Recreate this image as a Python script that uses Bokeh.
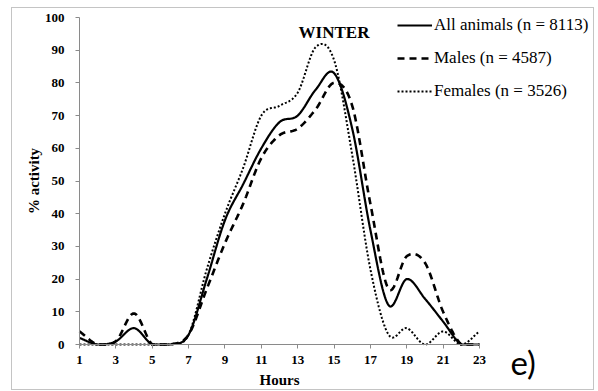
import numpy as np
from bokeh.plotting import figure
from bokeh.models import Legend, LegendItem, Label, FixedTicker, Range1d
from bokeh.embed import file_html
from bokeh.resources import INLINE

# ---- data ----
hours = list(range(1, 24))
all_animals = [2, 0, 1, 5, 0, 0, 3, 20, 38, 49, 60, 68, 70, 78, 83, 66, 35, 12, 20, 14, 7, 0, 0]
males = [4, 0, 1, 9.5, 0, 0, 3, 17, 31, 43, 57, 64, 66, 72, 80, 73, 43, 17, 27, 25, 10, 0, 0]
females = [0, 0, 0, 0, 0, 0, 3, 23, 40, 54, 70, 73, 77, 91, 87, 58, 23, 3, 5, 0, 4, 0, 4]
x_ticks = list(range(1, 24, 2))
y_ticks = list(range(0, 101, 10))
labels = ["All animals (n = 8113)", "Males (n = 4587)", "Females (n = 3526)"]


def smooth(xs, ys, n=24):
    """Catmull-Rom (Excel-like smoothed line) rendering of the series."""
    xs = np.asarray(xs, float)
    ys = np.asarray(ys, float)
    k = len(xs)
    mx = np.zeros(k)
    my = np.zeros(k)
    for i in range(k):
        a = max(i - 1, 0)
        b = min(i + 1, k - 1)
        mx[i] = (xs[b] - xs[a]) / (b - a)
        my[i] = (ys[b] - ys[a]) / (b - a)
    ox, oy = [], []
    t = np.linspace(0, 1, n, endpoint=False)
    h00 = 2 * t**3 - 3 * t**2 + 1
    h10 = t**3 - 2 * t**2 + t
    h01 = -2 * t**3 + 3 * t**2
    h11 = t**3 - t**2
    for i in range(k - 1):
        ox.extend(h00 * xs[i] + h10 * mx[i] + h01 * xs[i + 1] + h11 * mx[i + 1])
        oy.extend(h00 * ys[i] + h10 * my[i] + h01 * ys[i + 1] + h11 * my[i + 1])
    ox.append(xs[-1])
    oy.append(ys[-1])
    return ox, list(np.maximum(np.asarray(oy), 0.0))


# plot area: hour 1 -> px 79, hour 23 -> px 479 ; value 0 -> px 344, 100 -> px 17
# figure content spans px 12..594 horizontally and 8..390 vertically
PX_PER_H = 400 / 22
PX_PER_V = 327 / 100
x_start = 1 - (79 - 12) / PX_PER_H
x_end = 1 + (595 - 79) / PX_PER_H
y_end = (344 - 8) / PX_PER_V
y_start = -(391 - 344) / PX_PER_V

p = figure(
    width=583, height=383,
    x_range=Range1d(x_start, x_end), y_range=Range1d(y_start, y_end),
    output_backend="svg", toolbar_location=None,
    min_border_left=0, min_border_right=0, min_border_top=0, min_border_bottom=0,
)
p.styles = {"margin-left": "11px", "margin-top": "7px", "border": "1px solid #c4c4c4"}
p.outline_line_color = None
p.grid.visible = False
p.background_fill_color = "white"
p.border_fill_color = "white"

sx, sy = smooth(hours, all_animals)
r_all = p.line(sx, sy, line_color="black", line_width=2.2)
mx_, my_ = smooth(hours, males)
r_m = p.line(mx_, my_, line_color="black", line_width=2.6, line_dash="7 5")
fx, fy = smooth(hours, females)
r_f = p.line(fx, fy, line_color="black", line_width=2.0, line_dash="2 2")

serif = "Liberation Serif"
for ax in (p.xaxis[0], p.yaxis[0]):
    ax.axis_line_color = "#8a8a8a"
    ax.major_tick_line_color = "#8a8a8a"
    ax.major_tick_out = 4
    ax.major_tick_in = 0
    ax.minor_tick_out = 0
    ax.minor_tick_in = 0
    ax.major_label_text_font = serif
    ax.major_label_text_font_style = "bold"
    ax.major_label_text_font_size = "13px"
    ax.major_label_text_color = "black"
    ax.axis_label_text_font = serif
    ax.axis_label_text_font_style = "bold"
    ax.axis_label_text_font_size = "15px"
    ax.axis_label_text_color = "black"

p.xaxis.ticker = FixedTicker(ticks=x_ticks)
p.yaxis.ticker = FixedTicker(ticks=y_ticks)
p.xaxis.bounds = (1, 23)
p.yaxis.bounds = (0, 100)
p.xaxis.fixed_location = 0
p.yaxis.fixed_location = 1
p.xaxis.axis_label = "Hours"
p.yaxis.axis_label = "% activity"
p.xaxis.major_label_standoff = 7
p.yaxis.major_label_standoff = 11
p.xaxis.axis_label_standoff = 5
p.yaxis.axis_label_standoff = 0

legend = Legend(
    items=[LegendItem(label=labels[0], renderers=[r_all]),
           LegendItem(label=labels[1], renderers=[r_m]),
           LegendItem(label=labels[2], renderers=[r_f])],
    location=(385, 290),
    label_text_font=serif, label_text_font_size="17px", label_text_color="black",
    glyph_width=35, glyph_height=20, label_height=20, spacing=13,
    padding=0, margin=0, border_line_color=None, background_fill_alpha=0,
    label_standoff=2,
)
p.add_layout(legend, "center")

p.add_layout(Label(x=15.0, y=95.5, text="WINTER", text_font=serif, text_font_style="bold",
                   text_font_size="17px", text_align="center", text_baseline="middle",
                   text_color="black"))
p.add_layout(Label(x=24.7, y=-5.5, text="e)", text_font="Lato",
                   text_font_size="33px", text_align="left", text_baseline="middle",
                   text_color="black"))

open("out.html", "w").write(file_html(p, INLINE))
